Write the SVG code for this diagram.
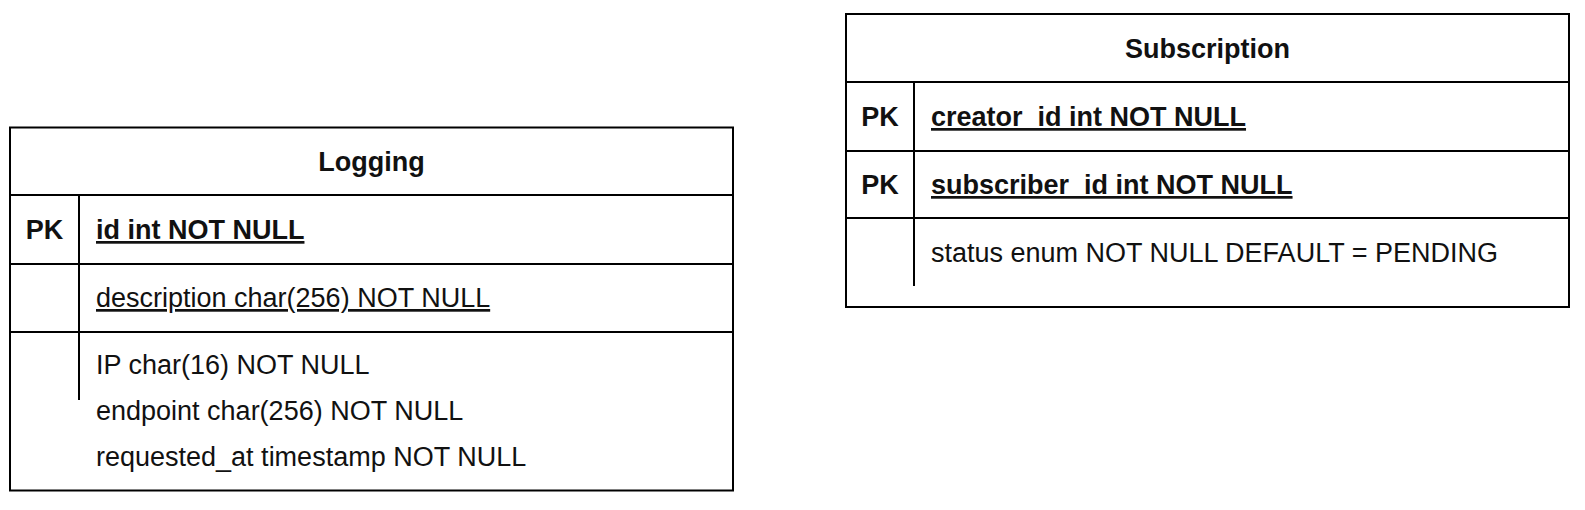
<svg xmlns="http://www.w3.org/2000/svg" width="1585" height="510" viewBox="0 0 1585 510">
<style>
.box{fill:#fff;stroke:#000;stroke-width:2}
.ln{stroke:#000;stroke-width:2;fill:none}
text{font-family:"Liberation Sans",Arial,sans-serif;font-size:27px;fill:#111}
.b{font-weight:bold}
.c{text-anchor:middle}
.u{text-decoration:underline}
</style>
<rect width="1585" height="510" fill="#fff"/>
<g id="logging">
<rect class="box" x="10" y="127.5" width="723" height="363"/>
<line class="ln" x1="10" y1="195" x2="733" y2="195"/>
<line class="ln" x1="10" y1="264" x2="733" y2="264"/>
<line class="ln" x1="10" y1="332" x2="733" y2="332"/>
<line class="ln" x1="79" y1="195" x2="79" y2="400"/>
<text class="b c" x="371.5" y="171">Logging</text>
<text class="b c" x="44.5" y="239">PK</text>
<text class="b u" x="96" y="239">id int NOT NULL</text>
<text class="u" x="96" y="307">description char(256) NOT NULL</text>
<text x="96" y="374">IP char(16) NOT NULL</text>
<text x="96" y="420">endpoint char(256) NOT NULL</text>
<text x="96" y="466">requested_at timestamp NOT NULL</text>
</g>
<g id="subscription">
<rect class="box" x="846" y="14" width="723" height="293"/>
<line class="ln" x1="846" y1="82" x2="1569" y2="82"/>
<line class="ln" x1="846" y1="151" x2="1569" y2="151"/>
<line class="ln" x1="846" y1="218" x2="1569" y2="218"/>
<line class="ln" x1="914" y1="82" x2="914" y2="286"/>
<text class="b c" x="1207.5" y="58">Subscription</text>
<text class="b c" x="880" y="126">PK</text>
<text class="b u" x="931" y="126">creator_id int NOT NULL</text>
<text class="b c" x="880" y="194">PK</text>
<text class="b u" x="931" y="194">subscriber_id int NOT NULL</text>
<text x="931" y="262">status enum NOT NULL DEFAULT = PENDING</text>
</g>
<g id="connectors"/>
</svg>
